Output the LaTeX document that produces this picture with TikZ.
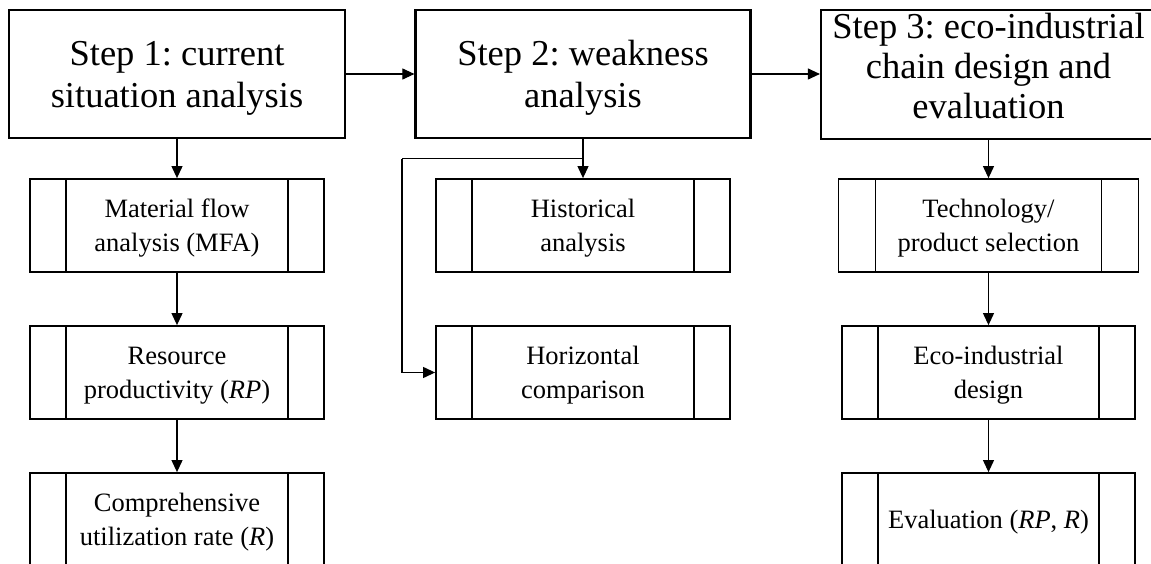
\documentclass[tikz,border=0pt]{standalone}
\usepackage{fontspec}
\setmainfont{Liberation Serif}
\usetikzlibrary{arrows.meta,calc}
\frenchspacing
\begin{document}
\begin{tikzpicture}[x=1pt,y=-1pt,
  stepbox/.style={draw,line width=2.2pt,minimum width=335pt,minimum height=128pt,inner sep=0pt,align=center,text depth=0pt,font=\fontsize{36.5}{42}\selectfont},
  subbox/.style={draw,line width=1.8pt,minimum width=294pt,minimum height=93pt,inner sep=0pt,align=center,text depth=0pt,font=\fontsize{26.5}{34}\selectfont},
  innerline/.style={line width=1.3pt},
  conn/.style={line width=1.1pt,-{Triangle[length=12pt,width=11pt]}}]
\useasboundingbox (0,0) rectangle (1151,564);
\clip (0,0) rectangle (1151,564);
\fill[white] (0,0) rectangle (1151,564);
% main steps
\node[stepbox,minimum width=336pt] (s1) at (177,74) {Step 1: current\\situation analysis};
\node[stepbox] (s2) at (583,74) {Step 2: weakness\\analysis};
\node[stepbox,minimum height=129pt,text depth=17pt,font=\fontsize{36.5}{40}\selectfont] (s3) at (988.5,74.5) {Step 3: eco-industrial\\chain design and\\evaluation};
% sub boxes
\node[subbox] (a1) at (177,225.5) {Material flow\\analysis (MFA)};
\node[subbox] (a2) at (177,372.5) {Resource\\productivity (\textit{RP})};
\node[subbox] (a3) at (177,519.5) {Comprehensive\\utilization rate (\textit{R})};
\node[subbox] (b1) at (583,225.5) {Historical\\analysis};
\node[subbox] (b2) at (583,372.5) {Horizontal\\comparison};
\node[subbox,minimum width=300pt] (c1) at (988.5,225.5) {Technology/\\product selection};
\node[subbox,minimum width=293pt] (c2) at (988.5,372.5) {Eco-industrial\\design};
\node[subbox,minimum width=293pt] (c3) at (988.5,519.5) {Evaluation (\textit{RP}, \textit{R})};
% inner vertical lines
\foreach \n in {a1,a2,a3,b1,b2,c2,c3}{
  \draw[innerline] ([xshift=37pt]\n.north west) -- ([xshift=37pt]\n.south west);
  \draw[innerline] ([xshift=-37pt]\n.north east) -- ([xshift=-37pt]\n.south east);
}
\draw[innerline] ([xshift=38pt]c1.north west) -- ([xshift=38pt]c1.south west);
\draw[innerline] ([xshift=-38pt]c1.north east) -- ([xshift=-38pt]c1.south east);
% connectors
\draw[conn] (s1) -- (s2);
\draw[conn] (s2.east) -- (s2.east -| s3.west);
\draw[conn] (s1) -- (a1);
\draw[conn] (a1) -- (a2);
\draw[conn] (a2) -- (a3);
\draw[conn] (s2) -- (b1);
\coordinate (j) at ($(s2.south)!0.5!(b1.north)$);
\coordinate (k) at (402,0 |- j);
\draw[line width=1.1pt] (j) -- (k);
\draw[conn] (k) |- (b2.west);
\draw[conn] (s3) -- (c1);
\draw[conn] (c1) -- (c2);
\draw[conn] (c2) -- (c3);
\end{tikzpicture}
\end{document}
